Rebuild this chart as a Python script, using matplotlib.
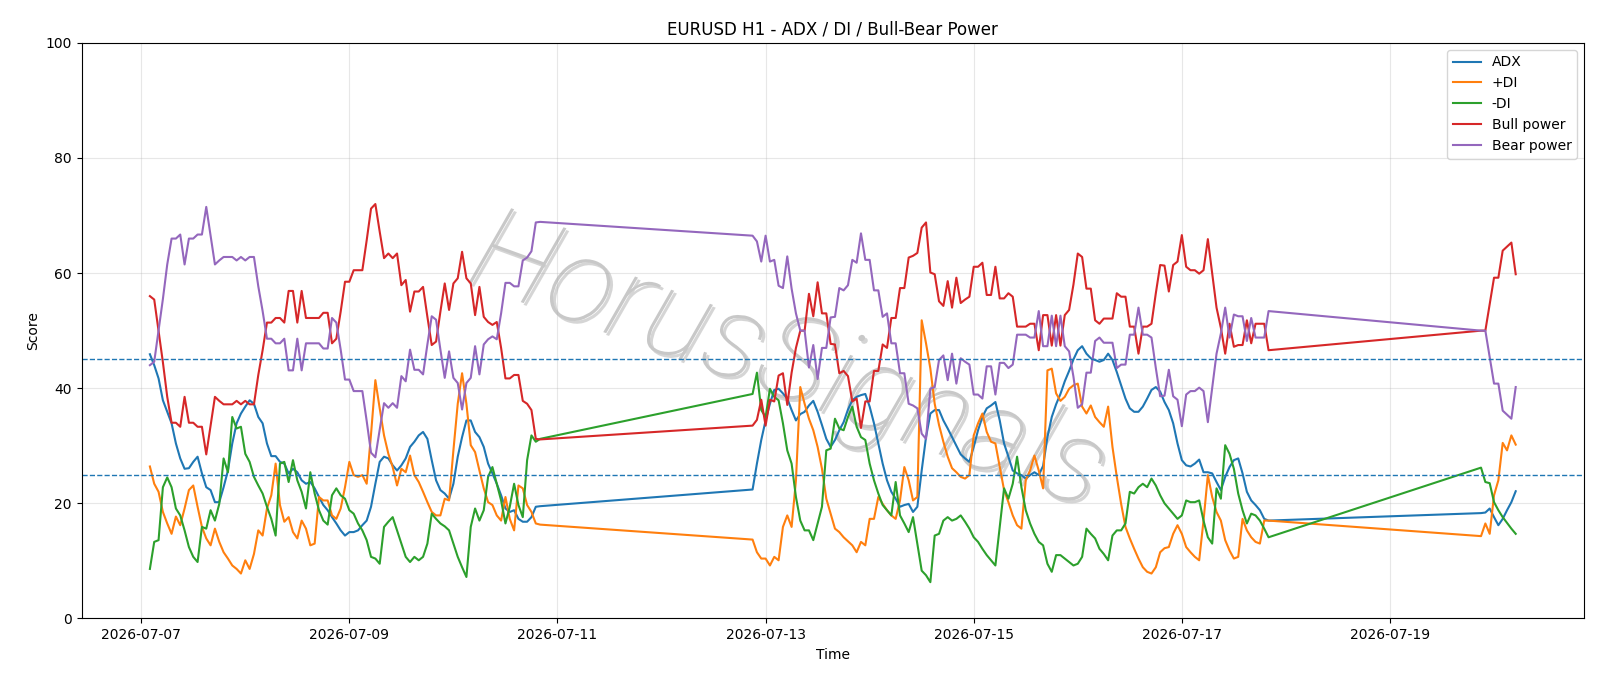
import pandas as pd
import matplotlib.pyplot as plt
import matplotlib.dates as mdates
import matplotlib.patheffects as pe

# hourly bars, three trading sessions (weekend gaps are bridged by the line)
sessions = [('2026-07-07 02:00', '2026-07-10 20:00'),
            ('2026-07-12 21:00', '2026-07-17 20:00'),
            ('2026-07-19 21:00', '2026-07-20 05:00')]

adx = [
    # session 1
    45.9, 44.0, 41.7, 37.9, 35.9, 33.9, 30.4, 27.8, 26.0, 26.1,
    27.2, 28.1, 25.2, 22.8, 22.3, 20.2, 20.2, 22.8, 25.7, 30.4,
    33.9, 35.6, 36.8, 37.9, 37.3, 35.0, 33.9, 30.4, 28.2, 28.2,
    27.2, 26.9, 25.2, 26.0, 25.4, 24.0, 23.4, 23.7, 22.6, 21.1,
    19.7, 18.8, 17.6, 16.5, 15.3, 14.4, 15.0, 15.0, 15.3, 16.2,
    17.0, 19.4, 23.4, 27.2, 28.1, 27.8, 26.6, 25.7, 26.6, 27.8,
    29.8, 30.7, 31.8, 32.4, 31.2, 27.5, 24.0, 22.3, 21.7, 20.8,
    23.4, 28.1, 31.5, 34.4, 34.4, 32.4, 31.5, 29.8, 26.9, 25.2,
    23.4, 21.4, 19.1, 18.5, 18.8, 17.3, 16.8, 16.8, 17.6, 19.4,
    19.5,
    # session 2
    22.4, 26.9, 31.0, 34.4, 37.3, 39.7, 39.9, 39.1, 38.2, 36.2,
    34.4, 35.5, 35.9, 37.0, 37.8, 35.9, 33.6, 31.2, 29.8, 31.0,
    32.7, 34.1, 36.3, 37.9, 38.5, 38.8, 39.0, 36.8, 33.9, 30.4,
    26.9, 24.0, 22.0, 20.8, 19.4, 19.7, 19.9, 18.5, 19.4, 25.7,
    31.5, 35.6, 36.2, 36.2, 34.4, 33.0, 31.5, 30.0, 28.5, 27.8,
    27.2, 29.8, 32.7, 35.0, 36.5, 37.0, 37.6, 34.4, 30.4, 28.1,
    25.7, 25.2, 24.9, 24.3, 24.9, 25.4, 24.9, 26.5, 31.5, 35.0,
    37.2, 39.0, 41.2, 43.0, 45.0, 46.6, 47.3, 46.0, 45.2, 44.9,
    44.6, 44.9, 46.0, 44.9, 42.8, 40.5, 38.2, 36.5, 35.9, 35.9,
    36.8, 38.2, 39.7, 40.2, 39.4, 37.6, 36.2, 33.9, 30.4, 27.5,
    26.6, 26.4, 26.9, 27.6, 25.4, 25.4, 25.2, 23.7, 22.3, 24.6,
    26.3, 27.5, 27.8, 25.2, 22.0, 20.5, 19.7, 18.8, 17.3, 17.0,
    # session 3
    18.3, 18.4, 19.1, 17.6, 16.2, 17.3, 18.8, 20.2, 22.1,
]

plus_di = [
    26.4, 23.4, 22.0, 18.5, 16.5, 14.7, 17.7, 16.2, 19.1, 22.3,
    23.1, 19.4, 15.9, 13.9, 12.7, 15.6, 13.3, 11.5, 10.4, 9.2,
    8.6, 7.8, 10.1, 8.6, 11.2, 15.3, 14.4, 19.1, 21.4, 26.9,
    19.7, 16.8, 17.6, 15.0, 13.9, 17.0, 15.6, 12.7, 13.0, 21.1,
    20.5, 20.5, 17.9, 17.3, 19.1, 22.8, 27.2, 24.9, 24.6, 24.9,
    23.4, 32.0, 41.4, 36.5, 31.8, 28.6, 26.3, 23.1, 26.0, 25.4,
    28.3, 24.9, 23.7, 22.0, 20.2, 18.5, 17.9, 17.9, 20.8, 20.5,
    29.2, 37.3, 42.6, 37.3, 30.1, 28.9, 25.7, 22.6, 20.2, 19.7,
    17.9, 17.0, 21.1, 17.3, 15.3, 23.1, 22.6, 19.7, 18.5, 16.5,
    16.3,
    13.7, 11.5, 10.4, 10.4, 9.2, 10.7, 10.1, 15.9, 17.9, 15.9,
    24.0, 40.2, 37.3, 34.7, 32.7, 29.8, 26.0, 20.8, 18.2, 15.6,
    15.0, 14.1, 13.4, 12.7, 11.5, 13.3, 12.7, 17.3, 17.3, 21.1,
    19.9, 18.8, 17.9, 17.3, 20.5, 26.3, 24.0, 20.5, 21.1, 51.8,
    47.8, 43.4, 37.3, 33.6, 30.7, 28.1, 26.1, 25.4, 24.6, 24.3,
    24.9, 31.8, 33.9, 35.6, 32.4, 30.7, 30.4, 26.3, 22.3, 20.2,
    17.9, 16.2, 15.6, 24.0, 25.7, 28.3, 25.7, 22.6, 43.1, 43.4,
    39.1, 37.8, 38.5, 39.9, 40.5, 40.8, 36.8, 35.6, 37.0, 35.0,
    34.1, 33.3, 36.8, 29.8, 24.6, 19.9, 15.9, 13.9, 12.1, 10.4,
    8.9, 8.1, 7.8, 8.9, 11.5, 12.2, 12.4, 14.7, 16.2, 14.7,
    12.4, 11.5, 10.7, 10.1, 17.0, 24.9, 21.1, 18.5, 17.0, 13.6,
    11.8, 10.4, 10.7, 17.3, 15.3, 14.1, 13.3, 13.0, 17.0, 17.0,
    14.3, 16.5, 14.7, 21.4, 24.0, 30.5, 29.2, 31.8, 30.2,
]

minus_di = [
    8.6, 13.3, 13.6, 22.8, 24.5, 22.8, 19.1, 17.9, 15.3, 12.4,
    10.7, 9.8, 15.9, 15.6, 18.8, 17.0, 19.9, 27.8, 25.4, 35.0,
    33.0, 33.3, 28.6, 27.2, 24.6, 23.1, 21.7, 19.4, 17.3, 14.4,
    26.9, 27.2, 23.7, 27.5, 24.0, 22.0, 19.1, 25.4, 21.7, 18.8,
    17.0, 16.3, 21.4, 22.6, 21.4, 20.8, 18.8, 18.2, 16.5, 15.3,
    13.6, 10.7, 10.4, 9.5, 15.9, 16.8, 17.6, 15.3, 13.0, 10.7,
    9.8, 10.7, 10.1, 10.7, 13.0, 18.2, 17.3, 16.5, 16.0, 15.3,
    13.0, 10.7, 8.9, 7.2, 15.9, 19.1, 17.0, 18.8, 24.6, 26.3,
    23.4, 20.5, 16.5, 19.4, 23.4, 19.7, 17.6, 27.5, 31.8, 30.7,
    31.2,
    39.0, 42.7, 36.2, 35.0, 39.9, 38.5, 37.9, 33.9, 29.2, 26.9,
    21.1, 17.0, 15.3, 15.3, 13.6, 16.5, 19.4, 29.2, 29.5, 34.7,
    33.0, 32.7, 35.0, 36.8, 33.3, 31.5, 31.0, 26.9, 24.0, 21.7,
    19.7, 18.8, 17.9, 23.7, 17.9, 16.5, 15.0, 17.6, 13.0, 8.3,
    7.5, 6.3, 14.4, 14.7, 17.0, 17.6, 17.0, 17.3, 17.9, 16.8,
    15.6, 14.1, 13.3, 12.1, 11.0, 10.1, 9.2, 15.9, 22.6, 20.8,
    23.4, 28.1, 22.8, 18.8, 16.5, 14.7, 13.3, 12.7, 9.5, 8.1,
    11.0, 11.0, 10.4, 9.8, 9.2, 9.5, 10.7, 15.6, 14.7, 13.9,
    12.1, 11.2, 10.1, 14.4, 15.3, 15.3, 16.5, 22.0, 21.7, 22.8,
    23.4, 22.8, 24.3, 23.1, 21.4, 20.0, 19.1, 18.2, 17.3, 17.9,
    20.5, 20.2, 20.2, 20.5, 17.0, 14.1, 13.0, 22.6, 20.8, 30.1,
    28.6, 26.0, 21.7, 18.8, 16.5, 18.2, 17.9, 17.0, 15.6, 14.1,
    26.2, 23.7, 23.5, 20.2, 18.8, 17.6, 16.6, 15.6, 14.7,
]

bull = [
    56.0, 55.4, 50.0, 44.5, 38.5, 34.0, 34.0, 33.3, 38.5, 34.0,
    34.0, 33.3, 33.3, 28.5, 33.5, 38.5, 37.8, 37.2, 37.2, 37.2,
    37.8, 37.2, 37.8, 37.2, 37.2, 42.3, 46.6, 51.4, 51.4, 52.2,
    52.2, 51.4, 56.9, 56.9, 51.4, 56.9, 52.2, 52.2, 52.2, 52.2,
    53.1, 53.1, 47.8, 48.6, 53.3, 58.5, 58.5, 60.5, 60.5, 60.5,
    65.7, 71.2, 72.0, 67.2, 62.6, 63.4, 62.6, 63.4, 57.9, 58.8,
    53.3, 56.8, 56.8, 57.6, 52.4, 47.5, 48.1, 53.3, 58.2, 53.6,
    58.2, 59.1, 63.7, 59.1, 58.2, 52.7, 57.6, 52.4, 51.5, 51.0,
    51.5, 47.0, 41.7, 41.7, 42.3, 42.3, 37.8, 37.3, 36.2, 31.2,
    31.1,
    33.5, 34.5, 38.0, 33.5, 38.0, 37.7, 42.2, 42.6, 37.1, 42.7,
    47.0, 50.0, 50.0, 56.4, 52.5, 58.4, 53.0, 53.0, 47.7, 47.6,
    42.6, 43.0, 42.1, 37.7, 38.2, 33.1, 37.7, 37.7, 43.0, 43.0,
    47.6, 47.0, 52.2, 52.2, 57.4, 57.4, 62.7, 63.0, 63.5, 67.9,
    68.8, 60.1, 59.8, 55.1, 54.3, 58.6, 54.0, 59.2, 54.8, 55.4,
    55.9, 61.1, 61.1, 61.8, 56.2, 56.2, 61.1, 55.6, 55.6, 56.5,
    55.9, 50.7, 50.7, 50.7, 51.2, 51.2, 46.6, 52.7, 52.7, 47.4,
    52.7, 47.4, 52.7, 53.6, 58.0, 63.4, 62.8, 57.3, 57.3, 51.8,
    51.2, 52.1, 52.1, 52.1, 56.5, 55.9, 55.9, 50.7, 50.7, 46.0,
    50.7, 50.7, 51.2, 56.5, 61.4, 61.3, 56.8, 61.4, 62.0, 66.6,
    61.1, 60.5, 60.5, 59.9, 60.5, 65.9, 60.0, 54.0, 50.5, 46.0,
    51.2, 47.2, 47.5, 47.5, 51.8, 47.8, 51.2, 51.2, 51.2, 46.6,
    50.0, 50.0, 54.6, 59.2, 59.2, 63.9, 64.6, 65.3, 59.8,
]

bear = [
    44.0, 44.6, 50.0, 55.5, 61.5, 66.0, 66.0, 66.7, 61.5, 66.0,
    66.0, 66.7, 66.7, 71.5, 66.5, 61.5, 62.2, 62.8, 62.8, 62.8,
    62.2, 62.8, 62.2, 62.8, 62.8, 57.7, 53.4, 48.6, 48.6, 47.8,
    47.8, 48.6, 43.1, 43.1, 48.6, 43.1, 47.8, 47.8, 47.8, 47.8,
    46.9, 46.9, 52.2, 51.4, 46.7, 41.5, 41.5, 39.5, 39.5, 39.5,
    34.3, 28.8, 28.0, 32.8, 37.4, 36.6, 37.4, 36.6, 42.1, 41.2,
    46.7, 43.2, 43.2, 42.4, 47.6, 52.5, 51.9, 46.7, 41.8, 46.4,
    41.8, 40.9, 36.3, 40.9, 41.8, 47.3, 42.4, 47.6, 48.5, 49.0,
    48.5, 53.0, 58.3, 58.3, 57.7, 57.7, 62.2, 62.7, 63.8, 68.8,
    68.9,
    66.5, 65.5, 62.0, 66.5, 62.0, 62.3, 57.8, 57.4, 62.9, 57.3,
    53.0, 50.0, 50.0, 43.6, 47.5, 41.6, 47.0, 47.0, 52.3, 52.4,
    57.4, 57.0, 57.9, 62.3, 61.8, 66.9, 62.3, 62.3, 57.0, 57.0,
    52.4, 53.0, 47.8, 47.8, 42.6, 42.6, 37.3, 37.0, 36.5, 32.1,
    31.2, 39.9, 40.2, 44.9, 45.7, 41.4, 46.0, 40.8, 45.2, 44.6,
    44.1, 38.9, 38.9, 38.2, 43.8, 43.8, 38.9, 44.4, 44.4, 43.5,
    44.1, 49.3, 49.3, 49.3, 48.8, 48.8, 53.4, 47.3, 47.3, 52.6,
    47.3, 52.6, 47.3, 46.4, 42.0, 36.6, 37.2, 42.7, 42.7, 48.2,
    48.8, 47.9, 47.9, 47.9, 43.5, 44.1, 44.1, 49.3, 49.3, 54.0,
    49.3, 49.3, 48.8, 43.5, 38.6, 38.7, 43.2, 38.6, 38.0, 33.4,
    38.9, 39.5, 39.5, 40.1, 39.5, 34.1, 40.0, 46.0, 49.5, 54.0,
    48.8, 52.8, 52.5, 52.5, 48.2, 52.2, 48.8, 48.8, 48.8, 53.4,
    50.0, 50.0, 45.4, 40.8, 40.8, 36.1, 35.4, 34.7, 40.2,
]

times = pd.concat([pd.Series(pd.date_range(a, b, freq='h')) for a, b in sessions],
                  ignore_index=True)

df = pd.DataFrame({
    'time': times,
    'adx': adx,
    'plus_di': plus_di,
    'minus_di': minus_di,
    'bull': bull,
    'bear': bear,
})

fig = plt.figure(figsize=(16, 6.86), dpi=100)
ax = fig.add_axes([0.051, 0.0985, 0.939, 0.839])

ax.plot(df['time'], df['adx'], label='ADX')
ax.plot(df['time'], df['plus_di'], label='+DI')
ax.plot(df['time'], df['minus_di'], label='-DI')
ax.plot(df['time'], df['bull'], label='Bull power')
ax.plot(df['time'], df['bear'], label='Bear power')

# trend strength thresholds
ax.axhline(25, linestyle='--', linewidth=1, color='tab:blue')
ax.axhline(45, linestyle='--', linewidth=1, color='tab:blue')

ax.set_ylim(0, 100)
ax.xaxis.set_major_locator(mdates.DayLocator(bymonthday=range(1, 32, 2)))
ax.xaxis.set_major_formatter(mdates.DateFormatter('%Y-%m-%d'))
ax.grid(True, alpha=0.3)
ax.set_title('EURUSD H1 - ADX / DI / Bull-Bear Power')
ax.set_xlabel('Time')
ax.set_ylabel('Score')
ax.legend(loc='upper right')

# watermark
ax.text(0.47, 0.44, 'HorusSignals', transform=ax.transAxes, fontsize=86,
        family='Roboto', fontweight='light', style='italic', color='#c8c8c8',
        rotation=-20, ha='center', va='center', zorder=0.5,
        path_effects=[pe.withSimplePatchShadow(offset=(2, -2), shadow_rgbFace='#777777', alpha=0.3)])

plt.savefig('out.png')
